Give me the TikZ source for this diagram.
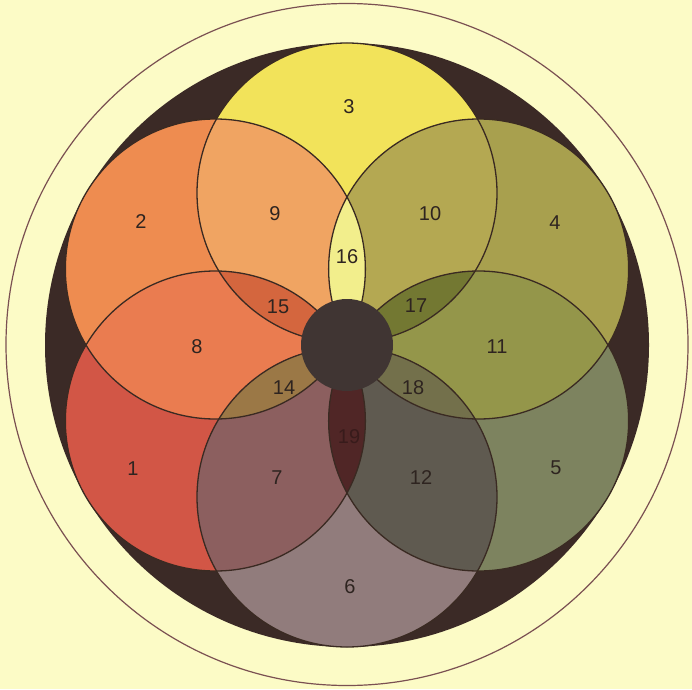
\documentclass[tikz,border=0pt]{standalone}
\usepackage{fontspec}
\setmainfont{Liberation Sans}
\usetikzlibrary{calc}
\definecolor{bgcream}{HTML}{FCFBC6}
\definecolor{ringline}{HTML}{7A5052}
\definecolor{darkdisk}{HTML}{3B2A26}
\definecolor{edgeline}{HTML}{3A2A22}
\definecolor{hubcol}{HTML}{403533}
\definecolor{txtcol}{HTML}{2E2420}
\definecolor{cA}{HTML}{D25646}% 1
\definecolor{cB}{HTML}{EE8C50}% 2
\definecolor{cC}{HTML}{F2E35A}% 3
\definecolor{cD}{HTML}{A8A04E}% 4
\definecolor{cE}{HTML}{7D835F}% 5
\definecolor{cF}{HTML}{917C7C}% 6
\definecolor{cAB}{HTML}{EA7C50}% 8
\definecolor{cBC}{HTML}{F0A462}% 9
\definecolor{cCD}{HTML}{B4A852}% 10
\definecolor{cDE}{HTML}{94964A}% 11
\definecolor{cEF}{HTML}{5F5A50}% 12
\definecolor{cFA}{HTML}{8C5F5F}% 7
\definecolor{cABC}{HTML}{D4663E}% 15
\definecolor{cBCD}{HTML}{F2EE8C}% 16
\definecolor{cCDE}{HTML}{737832}% 17
\definecolor{cDEF}{HTML}{73704B}% 18
\definecolor{cEFA}{HTML}{502626}% 19
\definecolor{cFAB}{HTML}{9B7846}% 14
\begin{document}
\begin{tikzpicture}[x=1pt,y=1pt,
  lbl/.style={text=txtcol,font=\fontsize{20}{20}\selectfont,inner sep=0pt},
  edge/.style={draw=edgeline,line width=1.3pt}]
\useasboundingbox (0,0) rectangle (692,689);
\fill[bgcream] (0,0) rectangle (692,689);
\coordinate (C) at (347,344);
\draw[ringline,line width=1.2pt] (347,344.5) circle[radius=341];
\fill[darkdisk] (C) circle[radius=302];
% circle centres
\coordinate (k1) at ($(C)+(210:152)$);
\coordinate (k2) at ($(C)+(150:152)$);
\coordinate (k3) at ($(C)+(90:152)$);
\coordinate (k4) at ($(C)+(30:152)$);
\coordinate (k5) at ($(C)+(-30:152)$);
\coordinate (k6) at ($(C)+(-90:152)$);
\def\R{150}
% single circles
\fill[cA] (k1) circle[radius=\R];
\fill[cB] (k2) circle[radius=\R];
\fill[cC] (k3) circle[radius=\R];
\fill[cD] (k4) circle[radius=\R];
\fill[cE] (k5) circle[radius=\R];
\fill[cF] (k6) circle[radius=\R];
% pairs
\begin{scope}\clip (k1) circle[radius=\R]; \fill[cAB] (k2) circle[radius=\R];\end{scope}
\begin{scope}\clip (k2) circle[radius=\R]; \fill[cBC] (k3) circle[radius=\R];\end{scope}
\begin{scope}\clip (k3) circle[radius=\R]; \fill[cCD] (k4) circle[radius=\R];\end{scope}
\begin{scope}\clip (k4) circle[radius=\R]; \fill[cDE] (k5) circle[radius=\R];\end{scope}
\begin{scope}\clip (k5) circle[radius=\R]; \fill[cEF] (k6) circle[radius=\R];\end{scope}
\begin{scope}\clip (k6) circle[radius=\R]; \fill[cFA] (k1) circle[radius=\R];\end{scope}
% triples
\begin{scope}\clip (k1) circle[radius=\R]; \clip (k3) circle[radius=\R]; \fill[cABC] (k2) circle[radius=\R];\end{scope}
\begin{scope}\clip (k2) circle[radius=\R]; \clip (k4) circle[radius=\R]; \fill[cBCD] (k3) circle[radius=\R];\end{scope}
\begin{scope}\clip (k3) circle[radius=\R]; \clip (k5) circle[radius=\R]; \fill[cCDE] (k4) circle[radius=\R];\end{scope}
\begin{scope}\clip (k4) circle[radius=\R]; \clip (k6) circle[radius=\R]; \fill[cDEF] (k5) circle[radius=\R];\end{scope}
\begin{scope}\clip (k5) circle[radius=\R]; \clip (k1) circle[radius=\R]; \fill[cEFA] (k6) circle[radius=\R];\end{scope}
\begin{scope}\clip (k6) circle[radius=\R]; \clip (k2) circle[radius=\R]; \fill[cFAB] (k1) circle[radius=\R];\end{scope}
% outlines
\foreach \k in {1,...,6} \draw[edge] (k\k) circle[radius=\R];
% hub
\fill[hubcol] (C) circle[radius=46];
% labels
\node[lbl] (n3) at (349,582) {3};
\node[lbl] (n2) at (141,467) {2};
\node[lbl] (n4) at (555,466) {4};
\node[lbl] (n1) at (133,220) {1};
\node[lbl] (n5) at (556,221) {5};
\node[lbl] (n6) at (350,102) {6};
\node[lbl] (n9) at (275,475) {9};
\node[lbl] (n10) at (430,475) {10};
\node[lbl] (n16) at (347,432) {16};
\node[lbl] (n15) at (278,382) {15};
\node[lbl] (n17) at (416,383) {17};
\node[lbl] (n8) at (197,342) {8};
\node[lbl] (n11) at (497,342) {11};
\node[lbl] (n14) at (284,301) {14};
\node[lbl] (n18) at (413,301) {18};
\node[lbl,text=cEFA!70!black] (n19) at (349,252) {19};
\node[lbl] (n7) at (277,211) {7};
\node[lbl] (n12) at (421,211) {12};
\end{tikzpicture}
\end{document}
